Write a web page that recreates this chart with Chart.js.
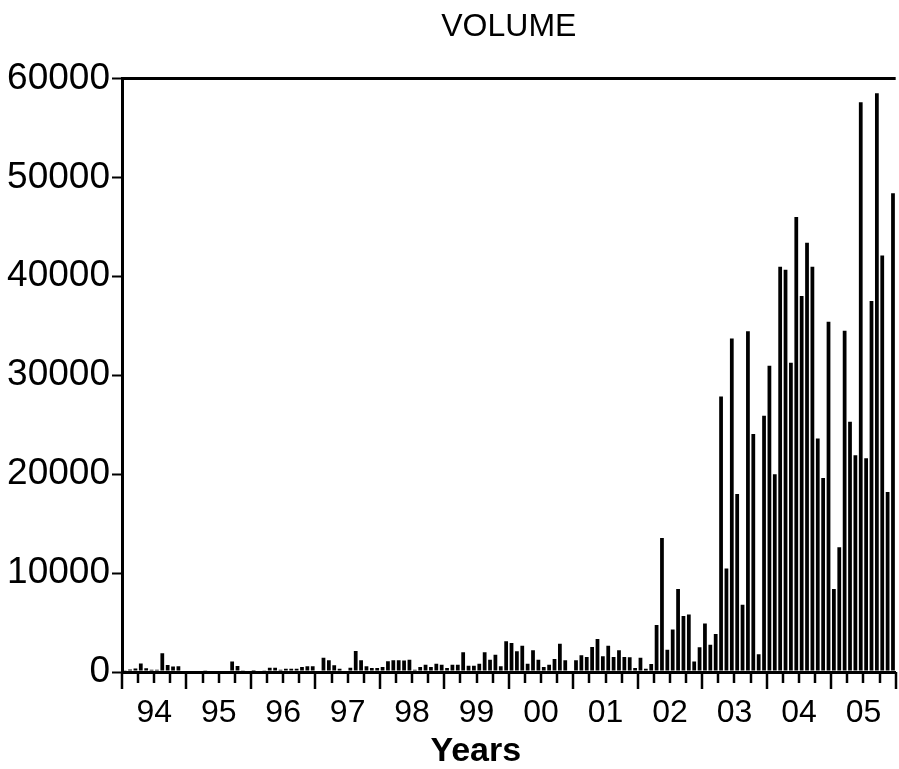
<!DOCTYPE html>
<html>
<head>
<meta charset="utf-8">
<script src="https://cdn.jsdelivr.net/npm/chart.js@4.4.0/dist/chart.umd.min.js"></script>
<style>
  html, body { margin: 0; padding: 0; background: #fff; }
  #wrap { width: 899px; height: 769px; }
</style>
</head>
<body>
<div id="wrap"><canvas id="volChart" width="899" height="769"></canvas></div>
<script>
    const years = ['94', '95', '96', '97', '98', '99', '00', '01', '02', '03', '04', '05'];
    const months = ['Jan', 'Feb', 'Mar', 'Apr', 'May', 'Jun', 'Jul', 'Aug', 'Sep', 'Oct', 'Nov', 'Dec'];
    const yTicks = [0, 10000, 20000, 30000, 40000, 50000, 60000];

    // monthly volume, one row per year
    const volume = [
        120, 250, 350, 850, 380, 240, 240, 1900, 720, 560, 570, 0,
        0, 150, 0, 130, 150, 150, 160, 150, 1050, 600, 170, 0,
        100, 0, 170, 440, 440, 240, 340, 340, 340, 500, 570, 570,
        0, 1450, 1180, 675, 340, 0, 440, 2120, 1180, 570, 400, 400,
        500, 1080, 1180, 1180, 1150, 1250, 240, 500, 740, 500, 840, 740,
        400, 740, 740, 1990, 640, 640, 840, 1990, 1250, 1750, 570, 3100,
        2930, 2090, 2660, 840, 2190, 1250, 500, 740, 1310, 2860, 1180, 0,
        1180, 1690, 1520, 2530, 3340, 1580, 2660, 1520, 2190, 1520, 1500, 400,
        1450, 340, 820, 4750, 13550, 2250, 4300, 8400, 5650, 5800, 1050, 2500,
        4900, 2750, 3850, 27850, 10450, 33700, 18000, 6800, 34450, 24050, 1800, 25900,
        30950, 20000, 40950, 40650, 31250, 46000, 38000, 43400, 40950, 23600, 19600, 35400,
        8400, 12600, 34500, 25300, 21900, 57600, 21600, 37500, 58500, 42100, 18200, 48400
    ];

    let labels = [];
    years.forEach(y => months.forEach(m => labels.push(m + ' ' + y)));

    Chart.defaults.font.family = "'Liberation Sans', Arial, sans-serif";
    Chart.defaults.color = '#000';

    // quarter ticks, longer ones at the year boundaries
    const axisTicks = {
        id: 'axisTicks',
        afterDraw(chart) {
            let x = chart.scales.x;
            let ctx = chart.ctx;
            let bottom = chart.chartArea.bottom;
            let slot = (x.right - x.left) / labels.length;
            ctx.save();
            ctx.strokeStyle = '#000';
            ctx.lineWidth = 2.5;
            for (let q = 0; q <= 48; q++) {
                let px = Math.round(x.left + q * 3 * slot);
                let len = (q % 4 === 0) ? 17 : 11;
                ctx.beginPath();
                ctx.moveTo(px, bottom);
                ctx.lineTo(px, bottom + len);
                ctx.stroke();
            }
            ctx.restore();
        }
    };

    new Chart(document.getElementById('volChart'), {
        type: 'bar',
        data: {
            labels: labels,
            datasets: [{
                label: 'VOLUME',
                data: volume,
                backgroundColor: '#000',
                borderWidth: 0,
                barPercentage: 0.7,
                categoryPercentage: 1
            }]
        },
        options: {
            responsive: false,
            devicePixelRatio: 1,
            animation: false,
            layout: { padding: { left: 0, right: 2, top: 0, bottom: 0 } },
            plugins: {
                legend: { display: false },
                tooltip: { enabled: false },
                title: {
                    display: true,
                    fullSize: false,
                    text: 'VOLUME',
                    color: '#000',
                    font: { size: 32, weight: 'normal' },
                    padding: { top: 8, bottom: 32 }
                }
            },
            scales: {
                x: {
                    type: 'category',
                    offset: true,
                    ticks: {
                        autoSkip: false,
                        maxRotation: 0,
                        minRotation: 0,
                        color: '#000',
                        font: { size: 32 },
                        padding: 6,
                        labelOffset: -2.7,
                        callback: (v, i) => i % 12 === 6 ? years[Math.floor(i / 12)] : ''
                    },
                    grid: {
                        display: true,
                        offset: true,
                        drawOnChartArea: false,
                        tickLength: 16,
                        tickColor: 'rgba(0,0,0,0)'
                    },
                    border: { display: true, color: '#000', width: 3 },
                    title: {
                        display: true,
                        text: 'Years       ',
                        color: '#000',
                        font: { size: 34, weight: 'bold', lineHeight: 1 },
                        padding: { top: 0, bottom: 0 }
                    },
                    afterFit: s => { s.height = 97; }
                },
                y: {
                    min: 0,
                    max: 60000,
                    afterBuildTicks: s => { s.ticks = yTicks.map(v => ({ value: v })); },
                    ticks: {
                        color: '#000',
                        font: { size: 37 },
                        padding: 2,
                        callback: v => String(v)
                    },
                    grid: {
                        drawOnChartArea: true,
                        color: c => c.tick && c.tick.value === 60000 ? '#000' : 'rgba(0,0,0,0)',
                        lineWidth: 3,
                        tickLength: 10,
                        tickWidth: 2,
                        tickColor: '#000'
                    },
                    border: { display: true, color: '#000', width: 3 },
                    afterFit: s => { s.width = 122; }
                }
            }
        },
        plugins: [axisTicks]
    });
</script>
</body>
</html>
